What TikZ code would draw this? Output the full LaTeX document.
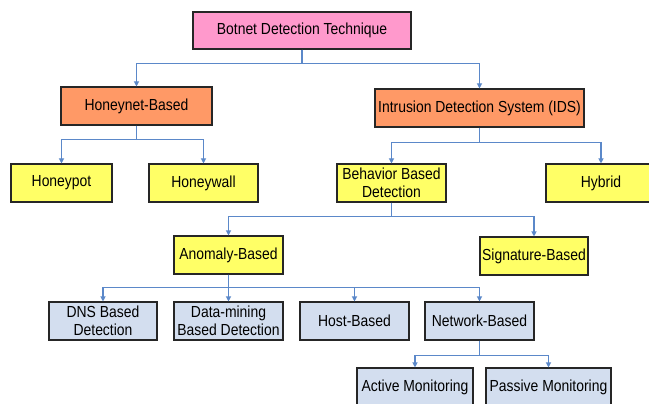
\documentclass[tikz,border=0pt]{standalone}
\usepackage{fontspec}
\setmainfont{Liberation Sans}[FakeStretch=0.87]
\usetikzlibrary{arrows.meta}
\definecolor{cpink}{HTML}{FF99CC}
\definecolor{corange}{HTML}{FF9966}
\definecolor{cyellow}{HTML}{FFFF66}
\definecolor{cgray}{HTML}{D3DEEF}
\definecolor{cline}{HTML}{5B88C9}
\tikzset{
  box/.style={draw=black!85, line width=1.1pt, inner sep=1pt, align=center,
    font=\fontsize{16}{18.5}\selectfont, text=black, minimum height=38pt},
  conn/.style={draw=cline, line width=1.1pt, -{Triangle[length=5pt,width=5pt]}},
}
\begin{document}
\begin{tikzpicture}[x=1pt,y=-1pt]
\useasboundingbox (0,0) rectangle (649,404);
\clip (0,0) rectangle (649,404);
\fill[white] (0,0) rectangle (649,404);
\node[box, fill=cpink, minimum width=218pt, minimum height=37pt] (top) at (302,30.5) {Botnet Detection Technique};
\node[box, fill=corange, minimum width=151pt] (honeynet) at (136.5,106) {Honeynet-Based};
\node[box, fill=corange, minimum width=209pt] (ids) at (479.5,108) {Intrusion Detection System (IDS)};
\node[box, fill=cyellow, minimum width=101pt] (honeypot) at (61.5,183) {Honeypot};
\node[box, fill=cyellow, minimum width=109pt] (honeywall) at (203.5,183) {Honeywall};
\node[box, fill=cyellow, minimum width=109pt] (behavior) at (391.5,183) {Behavior Based\\Detection};
\node[box, fill=cyellow, minimum width=110pt] (hybrid) at (601,183) {Hybrid};
\node[box, fill=cyellow, minimum width=109pt] (anomaly) at (228.5,255) {Anomaly-Based};
\node[box, fill=cyellow, minimum width=108pt] (signature) at (534,256) {Signature-Based};
\node[box, fill=cgray, minimum width=108pt] (dns) at (103,321) {DNS Based\\Detection};
\node[box, fill=cgray, minimum width=109pt] (datamining) at (228.5,321) {Data-mining\\Based Detection};
\node[box, fill=cgray, minimum width=109pt] (host) at (354.5,321) {Host-Based};
\node[box, fill=cgray, minimum width=109pt] (network) at (479.5,321) {Network-Based};
\node[box, fill=cgray, minimum width=116pt] (active) at (415,387) {Active Monitoring};
\node[box, fill=cgray, minimum width=125pt] (passive) at (548.5,387) {Passive Monitoring};
% connectors
\draw[conn] (top.south) -- ++(0,14) -| (honeynet.north);
\draw[conn] (top.south) -- ++(0,14) -| (ids.north);
\draw[conn] (honeynet.south) -- ++(0,14) -| (honeypot.north);
\draw[conn] (honeynet.south) -- ++(0,14) -| (honeywall.north);
\draw[conn] (ids.south) -- ++(0,15) -| (behavior.north);
\draw[conn] (ids.south) -- ++(0,15) -| (hybrid.north);
\draw[conn] (behavior.south) -- ++(0,14) -| (anomaly.north);
\draw[conn] (behavior.south) -- ++(0,14) -| (signature.north);
\draw[conn] (anomaly.south) -- ++(0,13) -| (dns.north);
\draw[conn] (anomaly.south) -- ++(0,13) -| (datamining.north);
\draw[conn] (anomaly.south) -- ++(0,13) -| (host.north);
\draw[conn] (anomaly.south) -- ++(0,13) -| (network.north);
\draw[conn] (network.south) -- ++(0,15) -| (active.north);
\draw[conn] (network.south) -- ++(0,15) -| (passive.north);
\end{tikzpicture}
\end{document}
